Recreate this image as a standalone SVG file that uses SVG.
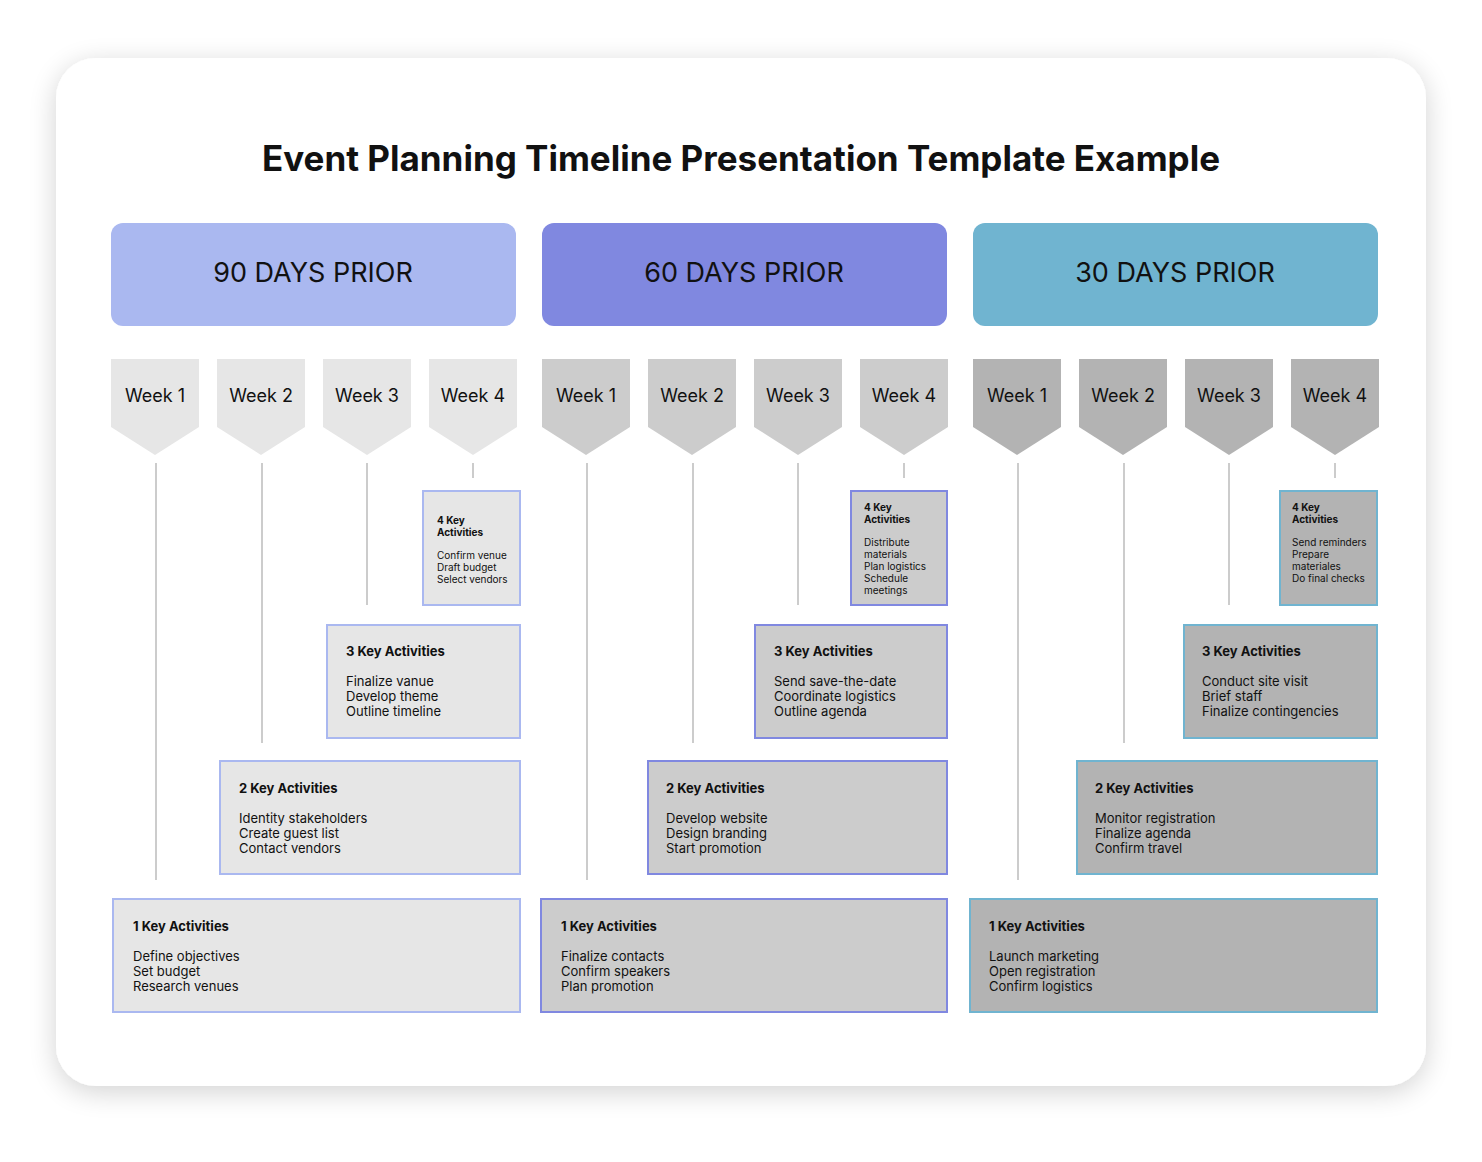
<svg xmlns="http://www.w3.org/2000/svg" width="1482" height="1162" viewBox="0 0 1482 1162">
<defs>
<filter id="sh" x="-10%" y="-10%" width="120%" height="120%"><feGaussianBlur in="SourceAlpha" stdDeviation="14"/><feOffset dy="6"/><feComponentTransfer><feFuncA type="linear" slope="0.18"/></feComponentTransfer><feMerge><feMergeNode/><feMergeNode in="SourceGraphic"/></feMerge></filter>
</defs>
<style>
text{font-family:Inter,"Liberation Sans",sans-serif;fill:#111}
.h{font-size:27px;text-anchor:middle}
.w{font-size:18px;text-anchor:middle}
.t{font-size:13px;font-weight:bold}
.i{font-size:13px}
.st{font-size:10px;font-weight:bold}
.si{font-size:10px}
.c1{fill:#e6e6e6}.c2{fill:#cccccc}.c3{fill:#b3b3b3}
.b1{stroke:#aab8f0;stroke-width:2}.b2{stroke:#8088e0;stroke-width:2}.b3{stroke:#70b4d0;stroke-width:2}
.ln{stroke:#cccccc;stroke-width:2}
</style>
<rect x="0" y="0" width="1482" height="1162" fill="#fff"/>
<rect x="56" y="58" width="1370" height="1028" rx="40" fill="#fff" filter="url(#sh)"/>
<text x="741" y="171" style="font-size:35px;font-weight:bold;text-anchor:middle">Event Planning Timeline Presentation Template Example</text>
<g id="headers">
<rect x="111" y="223" width="405" height="103" rx="12" fill="#aab8f0"/><text class="h" x="313" y="282">90 DAYS PRIOR</text>
<rect x="542" y="223" width="405" height="103" rx="12" fill="#8088e0"/><text class="h" x="744" y="282">60 DAYS PRIOR</text>
<rect x="973" y="223" width="405" height="103" rx="12" fill="#70b4d0"/><text class="h" x="1175" y="282">30 DAYS PRIOR</text>
</g>
<g id="connectors">
<line class="ln" x1="156" y1="463" x2="156" y2="880"/><line class="ln" x1="262" y1="463" x2="262" y2="743"/><line class="ln" x1="367" y1="463" x2="367" y2="605"/><line class="ln" x1="473" y1="463" x2="473" y2="478"/>
<line class="ln" x1="587" y1="463" x2="587" y2="880"/><line class="ln" x1="693" y1="463" x2="693" y2="743"/><line class="ln" x1="798" y1="463" x2="798" y2="605"/><line class="ln" x1="904" y1="463" x2="904" y2="478"/>
<line class="ln" x1="1018" y1="463" x2="1018" y2="880"/><line class="ln" x1="1124" y1="463" x2="1124" y2="743"/><line class="ln" x1="1229" y1="463" x2="1229" y2="605"/><line class="ln" x1="1335" y1="463" x2="1335" y2="478"/>
</g>
<g id="weeks">
<g class="c1"><path d="M111 359h88v68l-44 28l-44-28z"/><path d="M217 359h88v68l-44 28l-44-28z"/><path d="M323 359h88v68l-44 28l-44-28z"/><path d="M429 359h88v68l-44 28l-44-28z"/></g>
<g class="c2"><path d="M542 359h88v68l-44 28l-44-28z"/><path d="M648 359h88v68l-44 28l-44-28z"/><path d="M754 359h88v68l-44 28l-44-28z"/><path d="M860 359h88v68l-44 28l-44-28z"/></g>
<g class="c3"><path d="M973 359h88v68l-44 28l-44-28z"/><path d="M1079 359h88v68l-44 28l-44-28z"/><path d="M1185 359h88v68l-44 28l-44-28z"/><path d="M1291 359h88v68l-44 28l-44-28z"/></g>
<text class="w" x="155" y="402">Week 1</text><text class="w" x="261" y="402">Week 2</text><text class="w" x="367" y="402">Week 3</text><text class="w" x="473" y="402">Week 4</text>
<text class="w" x="586" y="402">Week 1</text><text class="w" x="692" y="402">Week 2</text><text class="w" x="798" y="402">Week 3</text><text class="w" x="904" y="402">Week 4</text>
<text class="w" x="1017" y="402">Week 1</text><text class="w" x="1123" y="402">Week 2</text><text class="w" x="1229" y="402">Week 3</text><text class="w" x="1335" y="402">Week 4</text>
</g>
<g id="col1">
<rect class="c1 b1" x="423" y="491" width="97" height="114"/>
<text class="st" x="437" y="524">4 Key</text><text class="st" x="437" y="536">Activities</text>
<text class="si" x="437" y="559">Confirm venue</text><text class="si" x="437" y="571">Draft budget</text><text class="si" x="437" y="583">Select vendors</text>
<rect class="c1 b1" x="327" y="625" width="193" height="113"/>
<text class="t" x="346" y="656">3 Key Activities</text><text class="i" x="346" y="686">Finalize vanue</text><text class="i" x="346" y="701">Develop theme</text><text class="i" x="346" y="716">Outline timeline</text>
<rect class="c1 b1" x="220" y="761" width="300" height="113"/>
<text class="t" x="239" y="793">2 Key Activities</text><text class="i" x="239" y="823">Identity stakeholders</text><text class="i" x="239" y="838">Create guest list</text><text class="i" x="239" y="853">Contact vendors</text>
<rect class="c1 b1" x="113" y="899" width="407" height="113"/>
<text class="t" x="133" y="931">1 Key Activities</text><text class="i" x="133" y="961">Define objectives</text><text class="i" x="133" y="976">Set budget</text><text class="i" x="133" y="991">Research venues</text>
</g>
<g id="col2">
<rect class="c2 b2" x="851" y="491" width="96" height="114"/>
<text class="st" x="864" y="511">4 Key</text><text class="st" x="864" y="523">Activities</text>
<text class="si" x="864" y="546">Distribute</text><text class="si" x="864" y="558">materials</text><text class="si" x="864" y="570">Plan logistics</text><text class="si" x="864" y="582">Schedule</text><text class="si" x="864" y="594">meetings</text>
<rect class="c2 b2" x="755" y="625" width="192" height="113"/>
<text class="t" x="774" y="656">3 Key Activities</text><text class="i" x="774" y="686">Send save-the-date</text><text class="i" x="774" y="701">Coordinate logistics</text><text class="i" x="774" y="716">Outline agenda</text>
<rect class="c2 b2" x="648" y="761" width="299" height="113"/>
<text class="t" x="666" y="793">2 Key Activities</text><text class="i" x="666" y="823">Develop website</text><text class="i" x="666" y="838">Design branding</text><text class="i" x="666" y="853">Start promotion</text>
<rect class="c2 b2" x="541" y="899" width="406" height="113"/>
<text class="t" x="561" y="931">1 Key Activities</text><text class="i" x="561" y="961">Finalize contacts</text><text class="i" x="561" y="976">Confirm speakers</text><text class="i" x="561" y="991">Plan promotion</text>
</g>
<g id="col3">
<rect class="c3 b3" x="1280" y="491" width="97" height="114"/>
<text class="st" x="1292" y="511">4 Key</text><text class="st" x="1292" y="523">Activities</text>
<text class="si" x="1292" y="546">Send reminders</text><text class="si" x="1292" y="558">Prepare</text><text class="si" x="1292" y="570">materiales</text><text class="si" x="1292" y="582">Do final checks</text>
<rect class="c3 b3" x="1184" y="625" width="193" height="113"/>
<text class="t" x="1202" y="656">3 Key Activities</text><text class="i" x="1202" y="686">Conduct site visit</text><text class="i" x="1202" y="701">Brief staff</text><text class="i" x="1202" y="716">Finalize contingencies</text>
<rect class="c3 b3" x="1077" y="761" width="300" height="113"/>
<text class="t" x="1095" y="793">2 Key Activities</text><text class="i" x="1095" y="823">Monitor registration</text><text class="i" x="1095" y="838">Finalize agenda</text><text class="i" x="1095" y="853">Confirm travel</text>
<rect class="c3 b3" x="970" y="899" width="407" height="113"/>
<text class="t" x="989" y="931">1 Key Activities</text><text class="i" x="989" y="961">Launch marketing</text><text class="i" x="989" y="976">Open registration</text><text class="i" x="989" y="991">Confirm logistics</text>
</g>
</svg>
